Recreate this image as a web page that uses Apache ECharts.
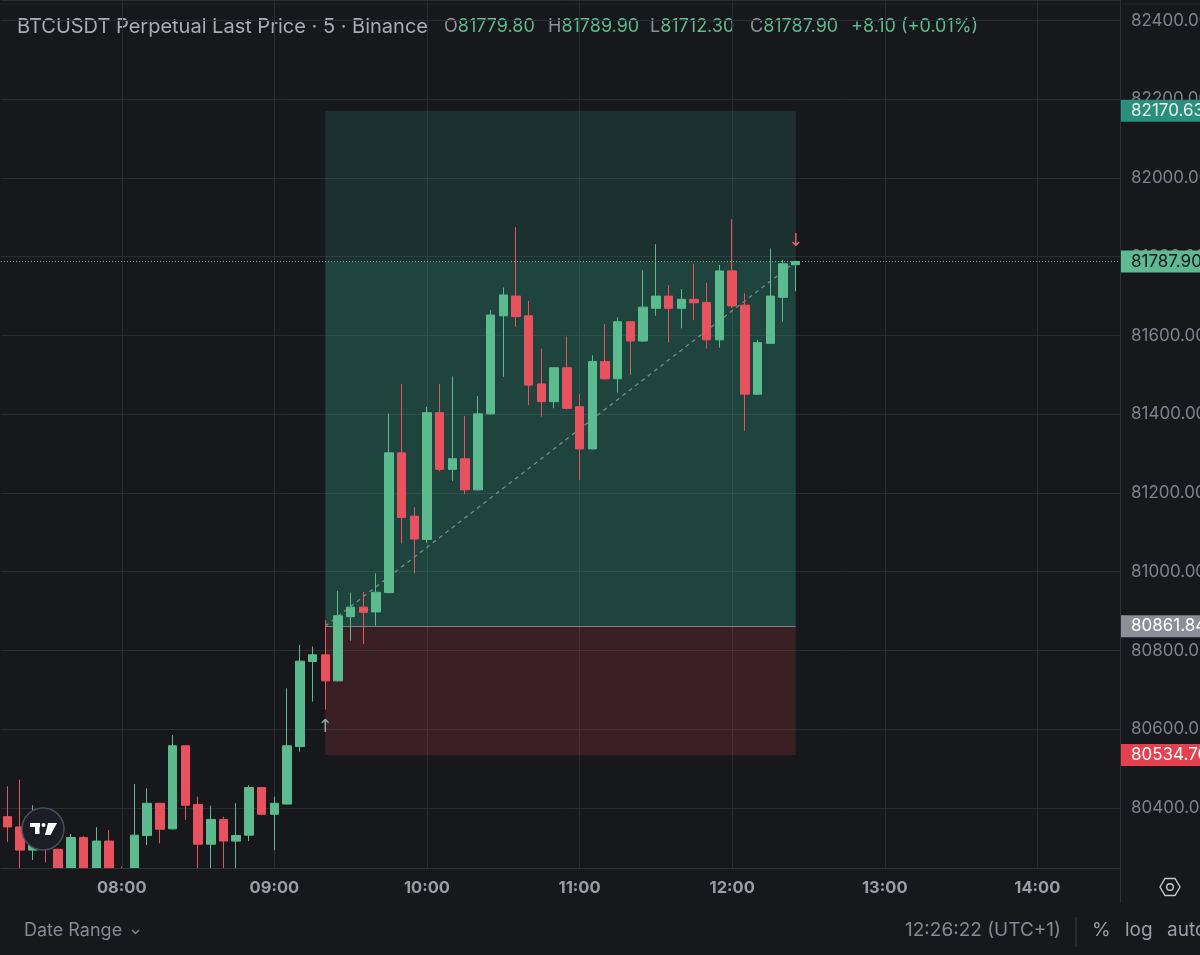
<!DOCTYPE html>
<html><head><meta charset="utf-8">
<script src="https://cdn.jsdelivr.net/npm/echarts@6/dist/echarts.min.js"></script>
<style>html,body{margin:0;padding:0;background:#17181c;}#c{width:1200px;height:955px;}</style>
</head><body><div id="c"></div><script>
// ---- data (5-minute candles) ----
const candleTimes = ['07:15','07:20','07:25','07:30','07:35','07:40','07:45','07:50','07:55','08:00',
 '08:05','08:10','08:15','08:20','08:25','08:30','08:35','08:40','08:45','08:50',
 '08:55','09:00','09:05','09:10','09:15','09:20','09:25','09:30','09:35','09:40',
 '09:45','09:50','09:55','10:00','10:05','10:10','10:15','10:20','10:25','10:30',
 '10:35','10:40','10:45','10:50','10:55','11:00','11:05','11:10','11:15','11:20',
 '11:25','11:30','11:35','11:40','11:45','11:50','11:55','12:00','12:05','12:10',
 '12:15','12:20','12:25'];
const emptySlots = ['12:30','12:35','12:40','12:45','12:50','12:55','13:00','13:05','13:10','13:15',
 '13:20','13:25','13:30','13:35','13:40','13:45','13:50','13:55','14:00','14:05','14:10','14:15',
 '14:20','14:25','14:30'];
const opens = [80378,80352,80293,80318,80295,80238,80325,80240,80316,80230,
 80215,80330,80412,80347,80558,80409,80308,80371,80316,80331,
 80452,80384,80410,80556,80772,80789,80723,80886,80910,80898,
 80947,81302,81141,81082,81404,81260,81287,81208,81401,81650,
 81700,81650,81477,81432,81518,81419,81312,81534,81490,81635,
 81586,81669,81700,81669,81692,81684,81589,81764,81677,81451,
 81580,81697,81779.8];
const highs = [80455,80472,80407,80340,80297,80334,80328,80351,80344,80251,
 80461,80450,80413,80585,80559,80429,80406,80378,80412,80458,
 80453,80429,80704,80814,80810,80877,80951,80947,80949,80996,
 81402,81477,81164,81419,81477,81496,81396,81446,81665,81722,
 81875,81688,81567,81519,81597,81451,81550,81629,81646,81636,
 81766,81832,81728,81718,81782,81734,81779,81895,81707,81589,
 81821,81792,81789.9];
const lows = [80314,80215,80268,80262,80205,80215,80210,80220,80200,80180,
 80200,80306,80310,80345,80370,80220,80225,80230,80235,80316,
 80382,80293,80409,80543,80670,80650,80721,80825,80816,80863,
 80945,81072,80996,81074,81255,81231,81197,81206,81399,81495,
 81622,81423,81394,81415,81412,81233,81310,81488,81455,81500,
 81584,81650,81582,81618,81639,81567,81569,81670,81358,81450,
 81579,81635,81712.3];
const closes = [80352,80293,80318,80295,80238,80325,80240,80316,80230,80215,
 80331,80412,80346,80558,80407,80308,80371,80316,80330,80452,
 80384,80412,80558,80773,80789,80723,80888,80910,80897,80948,
 81302,81138,81083,81404,81260,81287,81208,81401,81652,81703,
 81648,81474,81432,81518,81415,81312,81534,81490,81635,81586,
 81672,81700,81669,81692,81683,81589,81764,81675,81451,81582,
 81700,81782,81787.9];
const hourTicks = ['08:00','09:00','10:00','11:00','12:00','13:00','14:00'];
const positionStart = '09:20', positionEnd = '12:25';
const entryPrice = 80861.84, targetPrice = 82170.63, stopPrice = 80534.70, lastPrice = 81787.90;
const priceMin = 80247.6, priceMax = 82452.06;
const ohlcLast = {O:'81779.80', H:'81789.90', L:'81712.30', C:'81787.90', chg:'+8.10 (+0.01%)'};

// ---- build ----
const slots = candleTimes.concat(emptySlots);
const candleData = opens.map((o, i) => [o, closes[i], lows[i], highs[i]]);
const UP = '#5bbb8e', DOWN = '#e8525f', BG = '#17181c', GRID = '#2a2c33', AXIS = '#2f3139';
const F = 'Inter, Roboto, sans-serif';
const isHour = (i, v) => hourTicks.indexOf(v) >= 0;

function priceTag(v, bg, fg) {
  return { yAxis: v, lineStyle: { color: 'rgba(0,0,0,0)', width: 0 },
    label: { show: true, position: 'end', distance: 1, formatter: p => Number(p.value).toFixed(2),
      backgroundColor: bg, color: fg, padding: [3, 12, 2, 10], fontSize: 17, fontFamily: F, lineHeight: 17 } };
}
const ohlcRich = { g: { fill: '#8e919a', font: '18px ' + F }, v: { fill: '#5dbb8f', font: '18px ' + F } };

const chart = echarts.init(document.getElementById('c'), null, { renderer: 'canvas' });
chart.setOption({
  backgroundColor: BG,
  animation: false,
  grid: { left: 1, right: 80, top: 0, bottom: 87, outerBoundsMode: 'none', containLabel: false },
  xAxis: [
    {
      type: 'category', data: slots, boundaryGap: true,
      axisLine: { show: false }, axisTick: { show: false }, axisLabel: { show: false },
      splitLine: { show: true, interval: isHour, alignWithLabel: true, lineStyle: { color: GRID } }
    },
    {
      type: 'category', data: slots, boundaryGap: true, position: 'bottom', z: 10,
      axisLine: { show: true, lineStyle: { color: AXIS } },
      axisTick: { show: false },
      axisLabel: { interval: isHour, color: '#9a9da6', fontSize: 16.5, fontWeight: 'bold', fontFamily: F, margin: 12 },
      splitLine: { show: false }
    }
  ],
  yAxis: {
    type: 'value', position: 'right', scale: true, min: priceMin, max: priceMax, splitNumber: 11,
    axisLine: { show: true, lineStyle: { color: AXIS } },
    axisTick: { show: false },
    axisLabel: { color: '#7f828c', fontSize: 17, fontFamily: F, margin: 11, showMinLabel: false, showMaxLabel: false,
      formatter: v => v.toFixed(2) },
    splitLine: { show: true, lineStyle: { color: GRID } }
  },
  series: [
    {
      type: 'candlestick', data: candleData, barWidth: 9, clip: true, xAxisIndex: 0,
      itemStyle: { color: UP, color0: DOWN, borderColor: UP, borderColor0: DOWN, borderWidth: 1 },
      markArea: {
        silent: true,
        data: [
          [{ coord: [positionStart, targetPrice], itemStyle: { color: 'rgba(50,170,140,0.17)' } }, { coord: [positionEnd, lastPrice] }],
          [{ coord: [positionStart, lastPrice], itemStyle: { color: 'rgba(50,170,140,0.30)' } }, { coord: [positionEnd, entryPrice] }],
          [{ coord: [positionStart, entryPrice], itemStyle: { color: 'rgba(220,70,85,0.18)' } }, { coord: [positionEnd, stopPrice] }]
        ]
      }
    },
    {
      type: 'line', data: [], clip: false, silent: true, xAxisIndex: 0,
      markLine: {
        silent: true, symbol: ['none', 'none'], z: 1,
        data: [
          [{ coord: [positionStart, entryPrice], lineStyle: { color: 'rgba(175,185,190,0.6)', width: 1, type: 'solid' }, label: { show: false } },
           { coord: [positionEnd, entryPrice] }],
          [{ coord: [positionStart, entryPrice], lineStyle: { color: 'rgba(150,172,170,0.7)', width: 1.3, type: [4, 4] }, label: { show: false } },
           { coord: [positionEnd, lastPrice] }],
          Object.assign(priceTag(lastPrice, '#5dbb8f', '#131722'), { lineStyle: { color: 'rgba(120,195,160,0.85)', width: 1, type: [1, 2] } }),
          priceTag(targetPrice, '#2a8f7c', '#e6f2ee'),
          priceTag(entryPrice, '#8c8f98', '#ffffff'),
          priceTag(stopPrice, '#e5404d', '#ffffff')
        ]
      },
      markPoint: {
        silent: true, symbol: 'rect', symbolSize: 1, itemStyle: { color: 'rgba(0,0,0,0)' },
        data: [
          { coord: [positionStart, 80606], label: { show: true, position: 'inside', formatter: '↑', color: '#86aa9e', fontSize: 18, fontFamily: 'DejaVu Sans' } },
          { coord: [positionEnd, 81840], label: { show: true, position: 'inside', formatter: '↓', color: '#e0606f', fontSize: 18, fontFamily: 'DejaVu Sans' } }
        ]
      }
    }
  ],
  graphic: [
    { type: 'line', shape: { x1: 0, y1: 4, x2: 1200, y2: 4 }, style: { stroke: '#24262c', lineWidth: 1 }, z: 1 },
    // cover for candles reaching below the price scale
    { type: 'rect', shape: { x: 0, y: 868.5, width: 1120, height: 86 }, style: { fill: BG }, z: 6 },
    { type: 'text', left: 17, top: 17, style: { text: 'BTCUSDT Perpetual Last Price · 5 · Binance', fill: '#a9acb5', font: '20px ' + F } },
    { type: 'text', left: 444, top: 18, style: { rich: ohlcRich, text: '{g|O}{v|' + ohlcLast.O + '}' } },
    { type: 'text', left: 548, top: 18, style: { rich: ohlcRich, text: '{g|H}{v|' + ohlcLast.H + '}' } },
    { type: 'text', left: 650, top: 18, style: { rich: ohlcRich, text: '{g|L}{v|' + ohlcLast.L + '}' } },
    { type: 'text', left: 750, top: 18, style: { rich: ohlcRich, text: '{g|C}{v|' + ohlcLast.C + '}' } },
    { type: 'text', left: 851, top: 18, style: { text: ohlcLast.chg, fill: '#5dbb8f', font: '18px ' + F } },
    // TV watermark
    { type: 'circle', shape: { cx: 43, cy: 829, r: 21 }, style: { fill: '#1b1e27', stroke: '#4a4d57', lineWidth: 1.5 }, z: 20 },
    { type: 'rect', shape: { x: 30, y: 823, width: 10, height: 4 }, style: { fill: '#ffffff' }, z: 21 },
    { type: 'rect', shape: { x: 35, y: 823, width: 4.5, height: 11 }, style: { fill: '#ffffff' }, z: 21 },
    { type: 'circle', shape: { cx: 43.5, cy: 825, r: 2 }, style: { fill: '#ffffff' }, z: 21 },
    { type: 'polygon', shape: { points: [[48, 823], [57, 823], [50.5, 835], [45, 835]] }, style: { fill: '#ffffff' }, z: 21 },
    // axis separator and footer
    { type: 'line', shape: { x1: 1120.5, y1: 868, x2: 1120.5, y2: 903 }, style: { stroke: AXIS, lineWidth: 1 }, z: 7 },
    { type: 'polygon', shape: { points: [[1160,887],[1165,878.5],[1175,878.5],[1180,887],[1175,895.5],[1165,895.5]] }, style: { fill: 'none', stroke: '#c4c7ce', lineWidth: 1.4 }, z: 7 },
    { type: 'circle', shape: { cx: 1170, cy: 887, r: 3.3 }, style: { fill: 'none', stroke: '#c4c7ce', lineWidth: 1.4 }, z: 7 },
    { type: 'text', left: 24, top: 922, style: { text: 'Date Range', fill: '#868993', font: '18px ' + F }, z: 7 },
    { type: 'polyline', shape: { points: [[132, 930], [135.5, 933.5], [139, 930]] }, style: { stroke: '#868993', lineWidth: 1.3, fill: 'none' }, z: 7 },
    { type: 'text', left: 905, top: 921, style: { text: '12:26:22 (UTC+1)', fill: '#868993', font: '19px ' + F }, z: 7 },
    { type: 'line', shape: { x1: 1076, y1: 917, x2: 1076, y2: 947 }, style: { stroke: '#3a3d45', lineWidth: 1 }, z: 7 },
    { type: 'text', left: 1092, top: 921, style: { text: '%', fill: '#9a9da6', font: '19px ' + F }, z: 7 },
    { type: 'text', left: 1125, top: 921, style: { text: 'log', fill: '#9a9da6', font: '19px ' + F }, z: 7 },
    { type: 'text', left: 1167, top: 921, style: { text: 'auto', fill: '#9a9da6', font: '19px ' + F }, z: 7 }
  ]
});
</script></body></html>
